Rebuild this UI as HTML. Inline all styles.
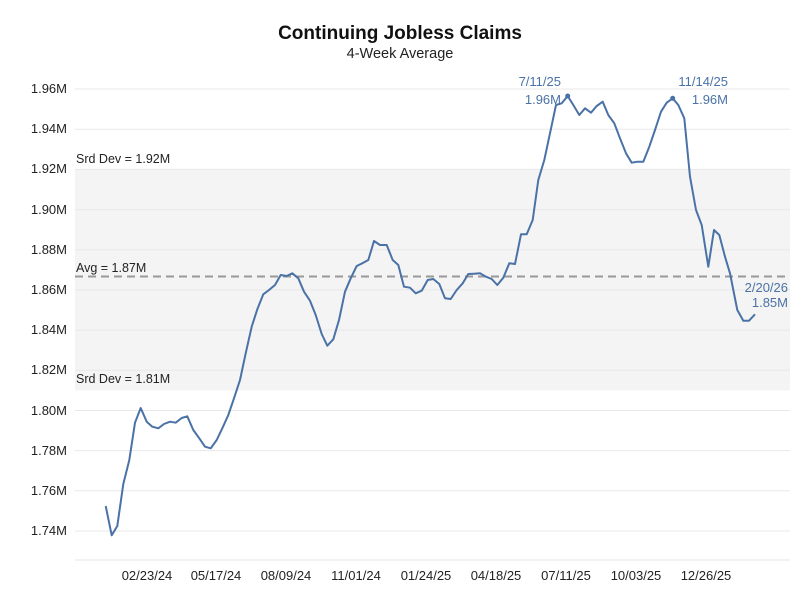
<!DOCTYPE html>
<html><head><meta charset="utf-8"><style>
body{margin:0;background:#fff}
svg{display:block;font-family:"Liberation Sans",sans-serif}
</style></head><body>
<svg width="800" height="600" xmlns="http://www.w3.org/2000/svg">
<rect width="800" height="600" fill="#fff"/>
<rect x="75" y="169.4" width="715" height="221" fill="#f4f4f4"/>
<g stroke="#e8e8e8" stroke-width="1">
<line x1="75" x2="790" y1="531" y2="531"/><line x1="75" x2="790" y1="490.8" y2="490.8"/>
<line x1="75" x2="790" y1="450.6" y2="450.6"/><line x1="75" x2="790" y1="410.5" y2="410.5"/>
<line x1="75" x2="790" y1="370.3" y2="370.3"/><line x1="75" x2="790" y1="330.1" y2="330.1"/>
<line x1="75" x2="790" y1="289.9" y2="289.9"/><line x1="75" x2="790" y1="249.7" y2="249.7"/>
<line x1="75" x2="790" y1="209.6" y2="209.6"/><line x1="75" x2="790" y1="169.4" y2="169.4"/>
<line x1="75" x2="790" y1="129.2" y2="129.2"/><line x1="75" x2="790" y1="89" y2="89"/>
</g>
<line x1="75" x2="790" y1="560" y2="560" stroke="#e4e4e4"/>
<line x1="75" x2="790" y1="276.5" y2="276.5" stroke="#999" stroke-width="2" stroke-dasharray="8,5"/>
<g font-size="13" fill="#222" text-anchor="end">
<text x="67" y="535">1.74M</text><text x="67" y="495">1.76M</text><text x="67" y="455">1.78M</text>
<text x="67" y="415">1.80M</text><text x="67" y="374">1.82M</text><text x="67" y="334">1.84M</text>
<text x="67" y="294">1.86M</text><text x="67" y="254">1.88M</text><text x="67" y="214">1.90M</text>
<text x="67" y="173">1.92M</text><text x="67" y="133">1.94M</text><text x="67" y="93">1.96M</text>
</g>
<g font-size="13" fill="#222" text-anchor="middle">
<text x="147" y="580">02/23/24</text><text x="216" y="580">05/17/24</text><text x="286" y="580">08/09/24</text>
<text x="356" y="580">11/01/24</text><text x="426" y="580">01/24/25</text><text x="496" y="580">04/18/25</text>
<text x="566" y="580">07/11/25</text><text x="636" y="580">10/03/25</text><text x="706" y="580">12/26/25</text>
</g>
<g font-size="12.5" fill="#222">
<text x="76" y="163">Srd Dev = 1.92M</text>
<text x="76" y="272">Avg = 1.87M</text>
<text x="76" y="383">Srd Dev = 1.81M</text>
</g>
<polyline fill="none" stroke="#4a72a6" stroke-width="2" stroke-linejoin="round" points="105.7,506 111.7,535.3 117.3,526 123.3,484 129.3,460 135,422.7 140.7,408 146.7,421.7 152.3,426.7 158.3,428.3 164,424 170,421.7 175.7,422.7 181.7,418 187.3,416.3 193.3,430 199.3,438.3 205,446.7 210.7,448.3 216.7,440 222.3,428.3 228.3,415 234,398.3 240,380 245.7,353.3 251.7,326.7 257.3,309.3 263.3,294.3 269,290 275,285 280.7,275 286.7,276 292.3,273.3 298.3,278.3 304,291.7 310,300.7 315.7,315 321.7,334 327.3,345.7 333.3,339.3 339,320 345,291.7 350.7,278.3 356.7,266 362.3,263.3 368.3,260 374,241 380,245 386.7,245 392.7,260 398.3,265 404,286.7 410,287.7 415.7,293.3 421.7,290.7 427.7,280 433.3,279 439.3,284 445,298.3 450.7,299 456.7,290 462.7,283.3 468.3,274 474,273.7 480,273.3 486,276.7 491.7,279 497.3,285 503.3,277.7 509.3,263.3 515,264 521,234.3 526.7,234.3 532.7,220 538.3,180 544.3,160 550,133.3 556,105 561.7,103.3 567.7,96 573.3,105 579.3,115 585,108.3 591,112.7 596.7,106 602.7,101.7 608.3,115 614.3,123.3 620,138.3 626,153.3 631.7,162.7 637.7,161.7 643.3,161.7 649.3,146.7 655,130 661,111.7 666.7,102.7 672.7,98.3 678.3,105 684.3,118.3 690,176.7 696,210 701.7,225 708.3,266.7 714,230 719.3,235 725,256.7 730,273.3 737.3,310 743.3,320.7 749,320.7 755,314.3"/>
<circle cx="567.7" cy="96" r="2.5" fill="#4a72a6"/>
<circle cx="672.7" cy="98.3" r="2.5" fill="#4a72a6"/>
<g font-size="13" fill="#4a72a6" text-anchor="end">
<text x="561" y="86">7/11/25</text><text x="561" y="104">1.96M</text>
<text x="728" y="86">11/14/25</text><text x="728" y="104">1.96M</text>
<text x="788" y="292">2/20/26</text><text x="788" y="307">1.85M</text>
</g>
<text x="400" y="39" text-anchor="middle" font-size="19" font-weight="bold" fill="#111">Continuing Jobless Claims</text>
<text x="400" y="58" text-anchor="middle" font-size="14.5" fill="#222">4-Week Average</text>
</svg>
</body></html>
